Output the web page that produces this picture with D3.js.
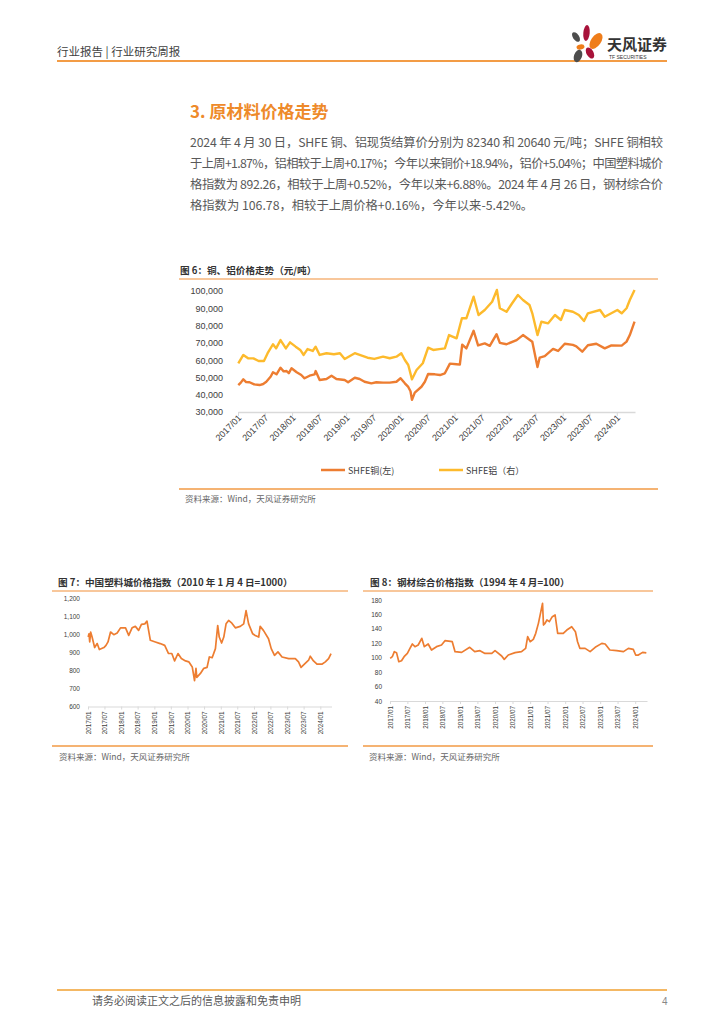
<!DOCTYPE html>
<html><head><meta charset="utf-8">
<script src="https://cdn.jsdelivr.net/npm/d3@7"></script>
<style>body{margin:0;background:#fff}svg{display:block}</style>
</head><body><svg id="page" width="724" height="1024"></svg>
<script>
// ---------------- DATA ----------------
const bodyLines = [
  "2024 年 4 月 30 日，SHFE 铜、铝现货结算价分别为 82340 和 20640 元/吨；SHFE 铜相较",
  "于上周+1.87%，铝相较于上周+0.17%；今年以来铜价+18.94%，铝价+5.04%；中国塑料城价",
  "格指数为 892.26，相较于上周+0.52%，今年以来+6.88%。2024 年 4 月 26 日，钢材综合价",
  "格指数为 106.78，相较于上周价格+0.16%，今年以来-5.42%。"
];
const xTickDates = ["2017-01-01","2017-07-01","2018-01-01","2018-07-01","2019-01-01","2019-07-01","2020-01-01","2020-07-01","2021-01-01","2021-07-01","2022-01-01","2022-07-01","2023-01-01","2023-07-01","2024-01-01"];
const metalTicks = [30000,40000,50000,60000,70000,80000,90000,100000];
const plasticTicks = [600,700,800,900,1000,1100,1200];
const steelTicks = [40,60,80,100,120,140,160,180];
const seriesNames = ["SHFE铜(左)","SHFE铝（右）"];

// SHFE copper (yuan/t, left axis)
const copper = [
["2017-01-03",45500],["2017-01-20",47000],["2017-02-06",48900],["2017-02-25",47300],["2017-03-20",47200],
["2017-04-20",46000],["2017-05-27",45600],["2017-06-20",46200],["2017-07-11",47500],["2017-08-10",50500],
["2017-08-25",53000],["2017-09-18",51800],["2017-10-15",55600],["2017-11-05",53500],["2017-11-25",53700],
["2017-12-10",52500],["2017-12-28",55300],["2018-02-01",53000],["2018-03-04",51400],["2018-03-26",49500],
["2018-04-29",51000],["2018-06-02",51800],["2018-06-09",53700],["2018-07-06",48500],["2018-08-21",49100],
["2018-09-24",51000],["2018-10-27",49100],["2018-12-22",48500],["2019-01-14",47200],["2019-02-28",49800],
["2019-04-02",49100],["2019-05-05",47500],["2019-06-20",46600],["2019-07-23",47200],["2019-09-07",47000],
["2019-10-22",47000],["2019-12-06",47500],["2020-01-03",49500],["2020-02-01",46600],["2020-02-24",44500],
["2020-03-10",42000],["2020-03-20",37000],["2020-04-08",41200],["2020-05-23",44600],["2020-06-15",47500],
["2020-07-07",52000],["2020-08-22",51800],["2020-09-25",51400],["2020-10-28",52400],["2020-12-01",58000],
["2021-01-15",57600],["2021-02-06",57400],["2021-02-22",69000],["2021-03-22",66800],["2021-05-10",77000],
["2021-06-09",68500],["2021-07-24",69700],["2021-08-27",68300],["2021-10-12",75000],["2021-11-03",70000],
["2021-12-18",69200],["2022-02-24",71600],["2022-04-08",74500],["2022-05-22",71800],["2022-06-10",70600],
["2022-07-15",56000],["2022-07-30",61500],["2022-09-02",62300],["2022-10-28",66500],["2022-12-01",65300],
["2023-01-15",69500],["2023-03-11",68800],["2023-04-03",68000],["2023-05-13",64900],["2023-06-20",68600],
["2023-08-16",69500],["2023-10-12",66800],["2023-11-26",68500],["2024-02-03",68400],["2024-03-07",70700],
["2024-03-29",74500],["2024-04-30",82300]
];
// SHFE aluminium (plotted on the hidden right axis; values read against the visible grid)
const aluminium = [
["2017-01-03",58200],["2017-02-06",63000],["2017-03-10",61100],["2017-04-15",61000],["2017-05-20",59500],
["2017-06-25",59500],["2017-07-20",64000],["2017-08-25",69200],["2017-09-15",66800],["2017-10-15",71600],
["2017-11-20",66800],["2017-12-18",70300],["2018-01-25",67800],["2018-02-25",65900],["2018-03-20",63000],
["2018-04-15",66400],["2018-05-20",65300],["2018-06-09",67800],["2018-07-06",63000],["2018-08-21",64000],
["2018-10-10",63400],["2018-11-20",64000],["2018-12-22",60700],["2019-02-28",64000],["2019-04-02",63000],
["2019-05-25",61400],["2019-07-10",60700],["2019-09-07",62000],["2019-10-22",61100],["2019-12-06",62000],
["2020-01-08",64000],["2020-02-01",60100],["2020-02-24",57200],["2020-03-20",48900],["2020-04-20",54300],
["2020-06-01",58200],["2020-07-07",67200],["2020-08-10",65900],["2020-09-20",66400],["2020-10-28",66800],
["2020-11-25",74500],["2021-01-15",72600],["2021-02-20",84200],["2021-03-22",84200],["2021-05-10",96700],
["2021-06-12",86100],["2021-07-24",89000],["2021-09-12",93800],["2021-10-14",100600],["2021-11-03",90000],
["2021-12-18",88000],["2022-01-25",92900],["2022-03-05",97700],["2022-04-08",94800],["2022-05-22",91900],
["2022-06-10",87100],["2022-07-15",74500],["2022-08-10",82200],["2022-09-25",81300],["2022-11-10",86100],
["2022-12-20",83200],["2023-01-15",89000],["2023-03-11",88000],["2023-04-20",86100],["2023-05-25",82600],
["2023-06-20",87100],["2023-09-10",89000],["2023-10-12",85100],["2024-01-05",89000],["2024-02-03",87100],
["2024-03-07",90000],["2024-03-29",94800],["2024-04-30",100600]
];
// China Plastics City price index
const plastic = [
["2017-01-03",984],["2017-01-12",1002],["2017-01-20",957],["2017-01-30",1012],["2017-02-15",984],
["2017-03-15",926],["2017-04-12",948],["2017-05-06",915],["2017-06-25",926],["2017-07-18",938],
["2017-08-09",957],["2017-09-06",1012],["2017-10-12",997],["2017-11-18",1006],["2017-12-25",1035],
["2018-02-18",1035],["2018-03-25",993],["2018-05-01",1035],["2018-06-06",1043],["2018-07-12",1021],
["2018-08-12",1054],["2018-09-18",1057],["2018-10-12",1072],["2018-11-18",966],["2019-01-12",957],
["2019-03-06",948],["2019-04-25",938],["2019-06-06",893],["2019-07-12",893],["2019-08-12",852],
["2019-09-18",893],["2019-10-25",865],["2019-12-10",852],["2020-01-15",847],["2020-02-22",819],
["2020-03-18",743],["2020-04-03",811],["2020-04-12",761],["2020-05-22",783],["2020-06-28",811],
["2020-08-03",816],["2020-08-28",874],["2020-09-28",870],["2020-11-03",920],["2020-11-28",1048],
["2020-12-15",984],["2021-01-10",951],["2021-02-03",984],["2021-02-28",1057],["2021-03-28",1076],
["2021-05-03",1061],["2021-06-10",1035],["2021-08-03",1043],["2021-09-10",1057],["2021-10-06",1130],
["2021-11-03",1057],["2021-12-18",1002],["2022-01-15",993],["2022-02-22",984],["2022-03-10",1043],
["2022-04-15",1021],["2022-06-10",975],["2022-07-10",920],["2022-08-15",883],["2022-09-22",902],
["2022-11-06",874],["2023-01-18",865],["2023-04-01",865],["2023-05-06",847],["2023-06-03",816],
["2023-07-10",834],["2023-08-25",856],["2023-09-12",878],["2023-10-18",852],["2023-11-25",834],
["2024-01-18",834],["2024-02-25",847],["2024-04-01",865],["2024-04-28",893]
];
// Steel composite price index
const steel = [
["2017-01-03",99.1],["2017-01-25",101.4],["2017-02-15",108.4],["2017-03-10",107],["2017-04-03",94.5],
["2017-05-01",95.9],["2017-05-28",101.4],["2017-07-01",106],["2017-07-28",113],["2017-08-22",119],
["2017-09-18",115.3],["2017-10-22",117.6],["2017-11-28",126.9],["2017-12-25",115.3],["2018-02-03",119],
["2018-03-10",110.7],["2018-05-01",115.3],["2018-06-22",117.6],["2018-07-28",123.6],["2018-10-12",122.2],
["2018-11-10",108.4],["2019-01-18",107.4],["2019-04-12",114.4],["2019-06-03",108.4],["2019-07-28",109.8],
["2019-09-18",106],["2019-11-28",106],["2020-01-01",109.8],["2020-03-10",102.4],["2020-04-06",97.7],
["2020-05-18",103.7],["2020-07-28",107],["2020-10-03",108.4],["2020-11-15",113],["2020-12-06",129.2],
["2021-01-01",122.2],["2021-02-03",125.5],["2021-02-28",133.8],["2021-03-28",147.6],["2021-05-10",175.4],
["2021-05-20",145.3],["2021-06-05",147.6],["2021-06-25",152.3],["2021-07-20",150],["2021-08-20",156.9],
["2021-09-18",159.2],["2021-10-15",133.8],["2021-12-12",133.8],["2022-01-18",138.4],["2022-03-10",143],
["2022-04-18",136],["2022-05-10",122.2],["2022-06-03",113],["2022-07-28",113],["2022-09-18",108.4],
["2022-11-10",114.4],["2023-01-18",119.9],["2023-02-22",119],["2023-04-12",110.7],["2023-06-22",109.8],
["2023-09-01",108.4],["2023-10-22",113],["2023-12-12",111.6],["2024-01-06",103.7],["2024-02-03",103.7],
["2024-03-18",107.4],["2024-04-26",106.8]
];

// ---------------- DRAW ----------------
const parse = d3.timeParse("%Y-%m-%d");
const fmtMonth = d3.timeFormat("%Y/%m");
const CJK = "'Noto Sans CJK SC','Noto Sans',sans-serif";
const NUM = "'Liberation Sans',Arial,sans-serif";
const ORANGE = "#ED7D31", GOLD = "#FDBA2C";
const svg = d3.select("#page");
svg.append("rect").attr("width",724).attr("height",1024).attr("fill","#fff");

// header
svg.append("text").attr("x",57).attr("y",56).attr("font-family",CJK).attr("font-size",11.5)
  .attr("fill","#404040").text("行业报告 | 行业研究周报");
svg.append("line").attr("x1",57).attr("x2",667).attr("y1",61).attr("y2",61)
  .attr("stroke","#F39C45").attr("stroke-width",2);
// logo
const logo = svg.append("g");
const petals = [
  {cx:576,cy:37,rx:3,ry:5.5,rot:-35,c:"#4D4D4D"},
  {cx:586.5,cy:33,rx:3.2,ry:8,rot:5,c:"#A8123A"},
  {cx:596,cy:41,rx:5,ry:9,rot:35,c:"#EF7D1A"},
  {cx:580.5,cy:47,rx:4,ry:2.6,rot:-10,c:"#EF7D1A"},
  {cx:590,cy:53,rx:3.5,ry:6,rot:-30,c:"#A8123A"},
  {cx:578,cy:56,rx:4,ry:6.5,rot:20,c:"#4D4D4D"}
];
logo.selectAll("ellipse").data(petals).join("ellipse")
  .attr("cx",d=>d.cx).attr("cy",d=>d.cy).attr("rx",d=>d.rx).attr("ry",d=>d.ry)
  .attr("transform",d=>`rotate(${d.rot},${d.cx},${d.cy})`).attr("fill",d=>d.c);
svg.append("text").attr("x",607).attr("y",50).attr("font-family",CJK).attr("font-size",15)
  .attr("font-weight","bold").attr("fill","#333").text("天风证券");
svg.append("text").attr("x",609).attr("y",58.5).attr("font-family",NUM).attr("font-size",5)
  .attr("fill","#333").text("TF SECURITIES");

// section title
svg.append("text").attr("x",190).attr("y",118).attr("font-family",CJK).attr("font-size",17)
  .attr("font-weight","bold").attr("fill","#EE8A2A").text("3. 原材料价格走势");
// body
const bodyY = [147, 168, 189, 210];
bodyLines.forEach((t,i)=>{
  const el = svg.append("text").attr("x",190).attr("y",bodyY[i]).attr("font-family",CJK)
    .attr("font-size",12.3).attr("fill","#595959").text(t);
  if (i<3) el.attr("textLength",473).attr("lengthAdjust","spacing");
});

function frame(x1,x2,yTop,yBot,title,tx,ty,src,sx,sy){
  svg.append("text").attr("x",tx).attr("y",ty).attr("font-family",CJK).attr("font-size",9.6)
    .attr("font-weight","bold").attr("fill","#333").text(title);
  svg.append("line").attr("x1",x1).attr("x2",x2).attr("y1",yTop).attr("y2",yTop)
    .attr("stroke","#F6B47A").attr("stroke-width",1.5);
  svg.append("line").attr("x1",x1).attr("x2",x2).attr("y1",yBot).attr("y2",yBot)
    .attr("stroke","#F29A45").attr("stroke-width",1.5);
  svg.append("text").attr("x",sx).attr("y",sy).attr("font-family",CJK).attr("font-size",8.5)
    .attr("fill","#666").text(src);
}
const SRC = "资料来源：Wind，天风证券研究所";
const tickDates = xTickDates.map(parse);
const domainX = [parse("2017-01-01"), parse("2024-05-03")];

// ---- Chart 6 ----
frame(179,658,279,489,"图 6：铜、铝价格走势（元/吨）",180,274,SRC,185,502);
{
  const x = d3.scaleTime().domain(domainX).range([238,635]);
  const y = d3.scaleLinear().domain([30000,100000]).range([412,291]);
  const g = svg.append("g");
  const ax = g.append("g").attr("transform","translate(0,412)")
    .call(d3.axisBottom(x).tickValues(tickDates).tickFormat(fmtMonth).tickSize(4).tickSizeOuter(0));
  ax.select(".domain").attr("stroke","#D9D9D9").attr("stroke-width",1.5);
  ax.selectAll(".tick line").attr("stroke","#D9D9D9");
  ax.selectAll("text").attr("font-family",NUM).attr("font-size",9).attr("fill","#404040")
    .attr("x",-2).attr("y",4).attr("dy","0.35em").attr("transform","rotate(-45)")
    .style("text-anchor","end");
  const ay = g.append("g").attr("transform","translate(223,0)")
    .call(d3.axisLeft(y).tickValues(metalTicks).tickFormat(d3.format(",")).tickSize(0));
  ay.select(".domain").remove();
  ay.selectAll("text").attr("font-family",NUM).attr("font-size",9).attr("fill","#404040").attr("x",0);
  const line = d3.line().x(d=>x(parse(d[0]))).y(d=>y(d[1]));
  g.append("path").datum(aluminium).attr("d",line).attr("fill","none").attr("stroke",GOLD)
    .attr("stroke-width",2.4).attr("stroke-linejoin","round");
  g.append("path").datum(copper).attr("d",line).attr("fill","none").attr("stroke",ORANGE)
    .attr("stroke-width",2.4).attr("stroke-linejoin","round");
  // legend
  const leg = [{x:321,c:ORANGE,t:seriesNames[0]},{x:439,c:GOLD,t:seriesNames[1]}];
  leg.forEach(l=>{
    g.append("line").attr("x1",l.x).attr("x2",l.x+24).attr("y1",470).attr("y2",470)
      .attr("stroke",l.c).attr("stroke-width",2.5);
    g.append("text").attr("x",l.x+27).attr("y",473.5).attr("font-family",CJK).attr("font-size",9)
      .attr("fill","#404040").text(l.t);
  });
}

// ---- Charts 7 & 8 ----
function smallChart(o){
  frame(o.x1,o.x2,591,746,o.title,o.tx,585.5,SRC,o.sx,760);
  const x = d3.scaleTime().domain(domainX).range([o.px0,o.px1]);
  const y = d3.scaleLinear().domain(o.yDom).range([o.yBot,o.yTop]);
  const g = svg.append("g");
  const ax = g.append("g").attr("transform",`translate(0,${o.yBot})`)
    .call(d3.axisBottom(x).tickValues(tickDates).tickFormat(fmtMonth).tickSize(3).tickSizeOuter(0));
  ax.select(".domain").attr("stroke","#D9D9D9").attr("stroke-width",1.2);
  ax.selectAll(".tick line").attr("stroke","#D9D9D9");
  ax.selectAll("text").attr("font-family",NUM).attr("font-size",6.3).attr("fill","#404040")
    .attr("x",-5).attr("y",0).attr("dy","0.35em").attr("transform","rotate(-90)")
    .style("text-anchor","end");
  const ay = g.append("g").attr("transform",`translate(${o.px0-8},0)`)
    .call(d3.axisLeft(y).tickValues(o.ticks).tickFormat(o.fmt).tickSize(0));
  ay.select(".domain").remove();
  ay.selectAll("text").attr("font-family",NUM).attr("font-size",6.5).attr("fill","#404040").attr("x",0);
  const line = d3.line().x(d=>x(parse(d[0]))).y(d=>y(d[1]));
  g.append("path").datum(o.data).attr("d",line).attr("fill","none").attr("stroke",ORANGE)
    .attr("stroke-width",1.7).attr("stroke-linejoin","round");
}
smallChart({x1:52,x2:348,title:"图 7：中国塑料城价格指数（2010 年 1 月 4 日=1000）",tx:58,sx:59,
  px0:88,px1:331.5,yDom:[600,1200],yBot:706.5,yTop:598,ticks:plasticTicks,fmt:d3.format(","),data:plastic});
smallChart({x1:363,x2:653,title:"图 8：钢材综合价格指数（1994 年 4 月=100）",tx:370,sx:369,
  px0:390,px1:647,yDom:[40,180],yBot:701,yTop:600,ticks:steelTicks,fmt:d3.format("d"),data:steel});

// footer
svg.append("line").attr("x1",57).attr("x2",667).attr("y1",990).attr("y2",990)
  .attr("stroke","#F0A030").attr("stroke-width",1.5);
svg.append("text").attr("x",92).attr("y",1004.5).attr("font-family",CJK).attr("font-size",11)
  .attr("fill","#595959").text("请务必阅读正文之后的信息披露和免责申明");
svg.append("text").attr("x",662).attr("y",1004.5).attr("font-family",NUM).attr("font-size",10)
  .attr("fill","#888").text("4");
</script></body></html>
